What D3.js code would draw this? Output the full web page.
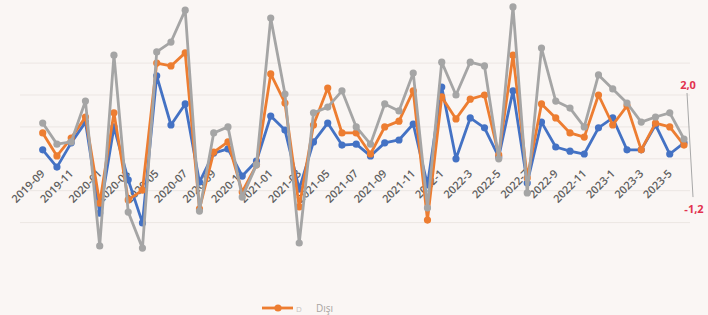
<!DOCTYPE html>
<html>
<head>
<meta charset="utf-8">
<script src="https://cdn.jsdelivr.net/npm/d3@7"></script>
<style>
  html, body { margin: 0; padding: 0; background: #faf6f4; }
  svg { display: block; }
</style>
</head>
<body>
<div id="chart"></div>
<script>
// monthly categories, 2019-09 .. 2023-6
const months = [
  "2019-09","2019-10","2019-11","2019-12",
  "2020-01","2020-02","2020-03","2020-04","2020-05","2020-06","2020-07","2020-08","2020-09","2020-10","2020-11","2020-12",
  "2021-01","2021-02","2021-03","2021-04","2021-05","2021-06","2021-07","2021-08","2021-09","2021-10","2021-11","2021-12",
  "2022-1","2022-2","2022-3","2022-4","2022-5","2022-6","2022-7","2022-8","2022-9","2022-10","2022-11","2022-12",
  "2023-1","2023-2","2023-3","2023-4","2023-5","2023-6"
];
// every other month is labelled
const tickLabels = months.filter((m, i) => i % 2 === 0);

const blueValues = [
  0.28, -0.26, 0.50, 1.15,
  -1.70, 1.00, -0.66, -2.01, 2.60, 1.06, 1.72, -0.73, 0.18, 0.31, -0.54, -0.07,
  1.34, 0.90, -0.95, 0.53, 1.12, 0.43, 0.46, 0.09, 0.50, 0.59, 1.09, -0.82,
  2.25, 0.00, 1.28, 0.97, 0.06, 2.13, -0.76, 1.15, 0.37, 0.24, 0.15, 0.97,
  1.28, 0.28, 0.28, 1.06, 0.15, 0.50
];
const orangeValues = [
  0.81, 0.09, 0.65, 1.31,
  -1.39, 1.44, -1.29, -0.98, 3.00, 2.91, 3.32, -1.57, 0.21, 0.53, -1.04, -0.19,
  2.66, 1.75, -1.51, 1.06, 2.22, 0.81, 0.81, 0.15, 1.00, 1.18, 2.13, -1.92,
  1.94, 1.25, 1.87, 2.00, 0.12, 3.25, -0.60, 1.72, 1.28, 0.81, 0.68, 2.00,
  1.06, 1.66, 0.28, 1.12, 1.00, 0.43
];
const grayValues = [
  1.12, 0.46, 0.53, 1.81,
  -2.73, 3.25, -1.67, -2.80, 3.35, 3.66, 4.66, -1.64, 0.81, 1.00, -1.20, -0.19,
  4.41, 2.03, -2.64, 1.44, 1.62, 2.13, 1.00, 0.46, 1.72, 1.50, 2.69, -1.54,
  3.03, 2.00, 3.03, 2.91, 0.00, 4.76, -1.07, 3.47, 1.81, 1.59, 1.00, 2.63,
  2.19, 1.75, 1.15, 1.31, 1.44, 0.62
];
const gridValues = [3, 2, 1, 0, -1, -2];
const annotTop = 2.0, annotBottom = -1.2;
const annotLabels = ["2,0", "-1,2"];
const legendLabel = "Dışı";

const width = 708, height = 315;

const svg = d3.select('#chart').append('svg')
  .attr('width', width)
  .attr('height', height);

svg.append('rect')
  .attr('width', width).attr('height', height)
  .attr('fill', '#faf6f4');

const x = d3.scalePoint()
  .domain(months)
  .range([42.7, 684]);
const y = d3.scaleLinear()
  .domain([-3, 5])
  .range([254.5, -0.7]);

// faint gridlines
svg.append('g')
  .selectAll('line')
  .data(gridValues)
  .enter().append('line')
  .attr('x1', 20).attr('x2', 690)
  .attr('y1', d => y(d)).attr('y2', d => y(d))
  .attr('stroke', '#ece6e3')
  .attr('stroke-width', 1);

// x axis labels (no line, no ticks)
const xAxis = d3.axisBottom(x)
  .tickValues(tickLabels)
  .tickSize(0)
  .tickPadding(0);
const axisG = svg.append('g')
  .attr('transform', 'translate(0,' + 172 + ')')
  .call(xAxis);
axisG.select('.domain').remove();
axisG.selectAll('text')
  .attr('font-family', 'Open Sans, sans-serif')
  .attr('font-size', 11)
  .attr('font-weight', 600)
  .attr('fill', '#5f5f5f')
  .attr('text-anchor', 'end')
  .attr('dy', '0.3em')
  .attr('y', 0)
  .attr('x', 0)
  .attr('transform', 'rotate(-45)');

const series = [
  {name: 'blue', values: blueValues, color: '#4472c4'},
  {name: 'orange', values: orangeValues, color: '#ed7d31'},
  {name: 'gray', values: grayValues, color: '#a5a5a5'}
];

const line = d3.line()
  .x((d, i) => x(months[i]))
  .y(d => y(d));

series.forEach(s => {
  const g = svg.append('g').attr('class', 'series ' + s.name);
  g.append('path')
    .datum(s.values)
    .attr('d', line)
    .attr('fill', 'none')
    .attr('stroke', s.color)
    .attr('stroke-width', 2.8)
    .attr('stroke-linejoin', 'round');
  g.selectAll('circle')
    .data(s.values)
    .enter().append('circle')
    .attr('cx', (d, i) => x(months[i]))
    .attr('cy', d => y(d))
    .attr('r', 3.6)
    .attr('fill', s.color);
});

// right-side annotation
const last = x(months[months.length - 1]);
svg.append('line')
  .attr('x1', last + 3).attr('y1', y(annotTop) - 2)
  .attr('x2', last + 9).attr('y2', y(annotBottom))
  .attr('stroke', '#a8a8a8')
  .attr('stroke-width', 1);
svg.append('text')
  .attr('x', last + 4).attr('y', y(annotTop) - 6)
  .attr('text-anchor', 'middle')
  .attr('font-family', 'Open Sans, sans-serif')
  .attr('font-size', 11).attr('font-weight', 700)
  .attr('fill', '#e2324f')
  .text(annotLabels[0]);
svg.append('text')
  .attr('x', last + 10).attr('y', y(annotBottom) + 16)
  .attr('text-anchor', 'middle')
  .attr('font-family', 'Open Sans, sans-serif')
  .attr('font-size', 11).attr('font-weight', 700)
  .attr('fill', '#e2324f')
  .text(annotLabels[1]);

// legend
const lg = svg.append('g').attr('transform', 'translate(262,308)');
lg.append('line')
  .attr('x1', 0).attr('x2', 31)
  .attr('stroke', '#ed7d31').attr('stroke-width', 2.8);
lg.append('circle')
  .attr('cx', 16).attr('r', 3.6).attr('fill', '#ed7d31');
lg.append('text')
  .attr('x', 34).attr('y', 4)
  .attr('font-family', 'Open Sans, sans-serif')
  .attr('font-size', 8).attr('fill', '#c9c4c2')
  .text('D');
lg.append('text')
  .attr('x', 54).attr('y', 4)
  .attr('font-family', 'Open Sans, sans-serif')
  .attr('font-size', 10).attr('fill', '#a9a4a2')
  .text(legendLabel);
</script>
</body>
</html>
